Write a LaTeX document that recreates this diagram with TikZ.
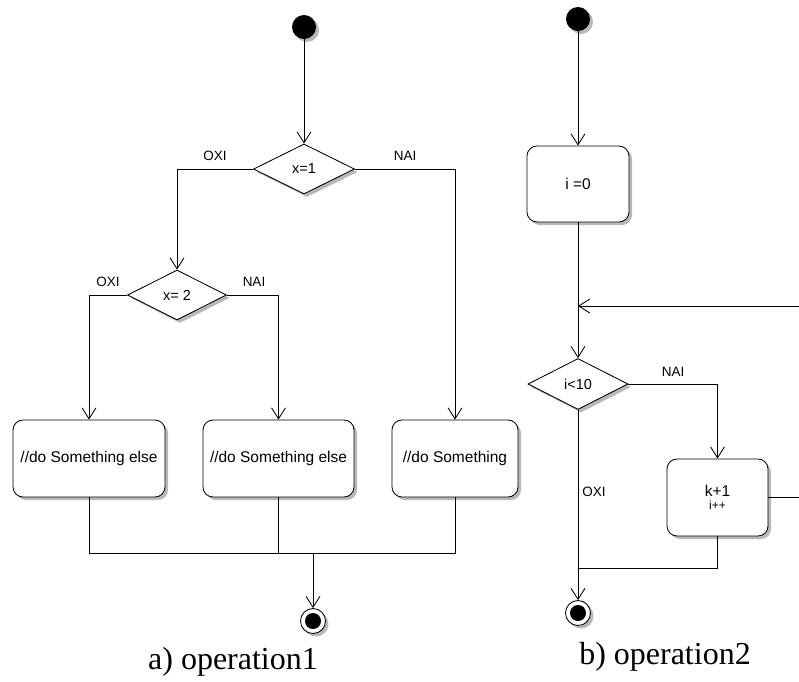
\documentclass[tikz,border=0pt]{standalone}
\usepackage{fontspec}
\newfontfamily\umlfont{Liberation Sans}
\newfontfamily\capfont{Liberation Serif}
\usetikzlibrary{arrows.meta,shapes.geometric,shadows}

\begin{document}
\begin{tikzpicture}[x=1pt,y=-1pt,
  line width=0.85pt,
  every node/.style={font=\umlfont},
  shade/.style={drop shadow={shadow xshift=3pt,shadow yshift=-3pt,fill=black!28,opacity=1}},
  action/.style={draw,rounded corners=10pt,fill=white,shade,inner sep=0pt,
    font=\umlfont\fontsize{15.5}{18}\selectfont},
  decision/.style={draw,diamond,fill=white,shade,inner sep=0pt,
    font=\umlfont\fontsize{14.5}{16}\selectfont},
  initial/.style={circle,fill=black,minimum size=24pt,inner sep=0pt,shade},
  final/.style={circle,draw,fill=white,minimum size=25pt,inner sep=0pt,shade,
    path picture={\fill[black] (path picture bounding box.center) circle (8pt);}},
  guard/.style={font=\umlfont\fontsize{13.5}{15}\selectfont,inner sep=0pt},
  flow/.style={-{Straight Barb[length=11pt,width=14pt]}},
  caption/.style={font=\capfont\fontsize{32}{36}\selectfont,inner sep=0pt}
]
\useasboundingbox (0,0) rectangle (799,681);

% ---- operation1 ----
\node[initial] (s1) at (304,27) {};
\node[decision,minimum width=101pt,minimum height=50pt] (d1) at (304,169) {x=1};
\node[decision,minimum width=99pt,minimum height=50pt] (d2) at (177,295) {x= 2};
\node[action,minimum width=152pt,minimum height=77pt] (a1) at (89,458.5) {//do Something else};
\node[action,minimum width=151pt,minimum height=77pt] (a2) at (278.5,458.5) {//do Something else};
\node[action,minimum width=126pt,minimum height=77pt] (a3) at (455,458.5) {//do Something};
\node[final] (f1) at (313,621) {};
\coordinate (m1) at (313,553);

\node[guard] (g1) at (215,156) {OXI};
\node[guard] (g2) at (405,156) {NAI};
\node[guard] (g3) at (108,282) {OXI};
\node[guard] (g4) at (254,282) {NAI};

\draw[flow] (s1) -- (d1);
\draw[flow] (d1.west) -| (d2.north);
\draw[flow] (d1.east) -| (a3.north);
\draw[flow] (d2.west) -| (a1.north);
\draw[flow] (d2.east) -| (a2.north);
\draw (a1.south) |- (m1) -| (a3.south);
\draw (a2.south) -- (a2.south |- m1);
\draw[flow] (m1) -- (f1);

% ---- operation2 ----
\node[initial] (s2) at (578,19) {};
\node[action,minimum width=102pt,minimum height=76pt] (b1) at (578,184) {i =0};
\node[decision,minimum width=100pt,minimum height=51pt] (d3) at (578,384) {i<10};
\node[action,minimum width=101pt,minimum height=77pt,align=center] (b2) at (717.5,497.5)
  {k+1\\[-5pt]{\fontsize{12}{13}\selectfont i++}};
\node[final] (f2) at (578,613) {};
\coordinate (r1) at (799,306);
\coordinate (j1) at (578,306);
\coordinate (r2) at (799,497.5);
\coordinate (m2) at (578,568);

\node[guard] (g5) at (673,372) {NAI};
\node[guard] (g6) at (594,492) {OXI};

\draw[flow] (s2) -- (b1);
\draw[flow] (b1) -- (d3);
\draw[flow] (r1) -- (j1);
\draw[flow] (d3.east) -| (b2.north);
\draw (b2.east) -- (r2);
\draw (b2.south) |- (m2);
\draw[flow] (d3) -- (f2);

% ---- captions ----
\node[caption] (c1) at (233,662) {a) operation1};
\node[caption] (c2) at (665,657) {b) operation2};
\end{tikzpicture}
\end{document}
